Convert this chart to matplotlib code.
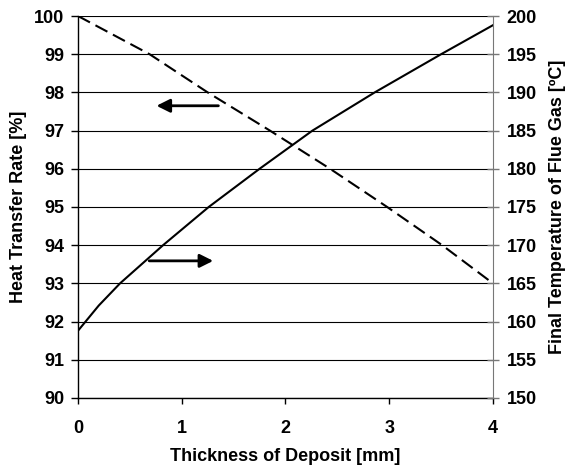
import matplotlib
matplotlib.use("Agg")
import matplotlib.pyplot as plt

plt.rcParams['font.family'] = ['Liberation Sans', 'DejaVu Sans']
plt.rcParams['font.weight'] = 'bold'

# deposit thickness [mm] vs heat transfer rate [%] (dashed, left axis)
thickness_rate = [0, 0.69, 1.25, 1.85, 2.43, 2.98, 3.51, 4.0]
heat_rate = [100, 99.0, 98.0, 97.0, 96.0, 95.0, 94.0, 93.0]

# deposit thickness [mm] vs final flue gas temperature [C] (solid, right axis)
thickness_temp = [0, 0.2, 0.405, 0.82, 1.26, 1.75, 2.26, 2.86, 3.5, 4.0]
flue_temp = [158.8, 162.1, 165.0, 170.0, 175.0, 180.0, 185.0, 190.0, 195.0, 198.8]

x_ticks = [0, 1, 2, 3, 4]
left_ticks = list(range(90, 101))
right_ticks = list(range(150, 201, 5))

fig = plt.figure(figsize=(5.66, 4.68), dpi=100)
ax = fig.add_axes([0.1378, 0.1496, 0.7332, 0.8162])
ax2 = ax.twinx()

ax.plot(thickness_rate, heat_rate, color='black', lw=1.5, ls=(0, (6.5, 3)))
ax2.plot(thickness_temp, flue_temp, color='black', lw=1.5)

ax.set_xlim(0, 4)
ax.set_ylim(90, 100)
ax2.set_ylim(150, 200)
ax.set_xticks(x_ticks)
ax.set_yticks(left_ticks)
ax2.set_yticks(right_ticks)

ax.yaxis.grid(True, color='black', lw=0.8)
ax.set_axisbelow(True)

for a in (ax, ax2):
    a.spines['top'].set_visible(False)
ax.spines['right'].set_visible(False)
ax2.spines['left'].set_visible(False)
ax2.spines['bottom'].set_visible(False)
ax2.spines['right'].set_color('#777777')
ax.spines['left'].set_linewidth(1.0)
ax.spines['bottom'].set_linewidth(1.0)

ax.tick_params(axis='y', direction='out', length=5, width=1, labelsize=13, pad=5)
ax.tick_params(axis='x', direction='out', length=4.3, width=1, labelsize=13, pad=11.5)
ax2.tick_params(axis='y', direction='inout', length=8.6, width=1, labelsize=13,
                color='#777777', pad=5.5)

ax.set_xlabel('Thickness of Deposit [mm]', fontsize=13, fontweight='bold', labelpad=8)
ax.set_ylabel('Heat Transfer Rate [%]', fontsize=13, fontweight='bold', labelpad=5)
ax2.set_ylabel('Final Temperature of Flue Gas [ºC]', fontsize=13, fontweight='bold', labelpad=9)

ax.annotate('', xy=(0.73, 97.65), xytext=(1.38, 97.65),
            arrowprops=dict(arrowstyle='-|>', color='black', lw=2, mutation_scale=20))
ax.annotate('', xy=(1.33, 93.59), xytext=(0.66, 93.59),
            arrowprops=dict(arrowstyle='-|>', color='black', lw=2, mutation_scale=20))

fig.savefig('out.png', dpi=100)
